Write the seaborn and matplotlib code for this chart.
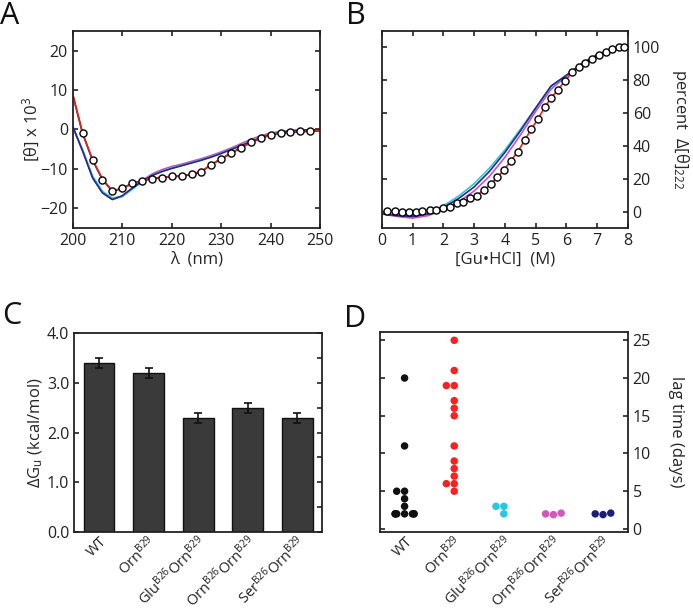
import numpy as np
import pandas as pd
import matplotlib
matplotlib.use("Agg")
import matplotlib.pyplot as plt
import matplotlib.transforms as mtransforms
from matplotlib.ticker import MultipleLocator, FormatStrFormatter
import seaborn as sns
import seaborn.categorical as sc

# ---------------- data ----------------
# Panel A: CD spectra
wl = [200, 202, 204, 206, 208, 210, 212, 214, 216, 218, 220, 222, 224, 226,
      228, 230, 232, 234, 236, 238, 240, 242, 244, 246, 248, 250]
cd_wt = [8.8, -1.0, -7.8, -12.7, -15.7, -14.9, -13.7, -13.0, -12.5, -12.2, -11.9, -11.9, -11.4,
         -10.7, -8.9, -7.5, -6.0, -4.6, -3.3, -2.2, -1.35, -0.9, -0.7, -0.5, -0.5, -0.3]
cd_orn = [8.9, -1.1, -7.7, -12.6, -15.6, -14.9, -13.8, -13.0, -12.4, -12.1, -11.9, -11.8, -11.3,
          -10.6, -8.9, -7.4, -6.0, -4.6, -3.3, -2.2, -1.4, -0.9, -0.6, -0.5, -0.4, -0.3]
cd_glu = [0.5, -5.2, -11.8, -15.7, -17.4, -17.0, -15.2, -13.3, -11.6, -10.6, -9.8, -9.1, -8.4,
          -7.7, -6.9, -6.0, -5.0, -4.0, -3.0, -2.0, -1.2, -0.7, -0.3, -0.2, -0.1, -0.1]
cd_ornorn = [0.6, -5.4, -12.0, -16.0, -17.7, -17.0, -15.0, -13.0, -11.3, -10.2, -9.4, -8.8, -8.1,
             -7.4, -6.6, -5.7, -4.7, -3.6, -2.5, -1.6, -0.9, -0.5, -0.2, -0.1, -0.1, -0.1]
cd_ser = [0.8, -5.5, -12.3, -16.1, -17.8, -16.8, -14.9, -13.1, -11.7, -10.7, -9.9, -9.2, -8.5,
          -7.8, -7.0, -6.1, -5.1, -4.1, -3.1, -2.1, -1.3, -0.8, -0.4, -0.2, -0.1, -0.1]
wl_pts = wl[1:-1]
cd_pts = cd_wt[1:-1]

# Panel B: GuHCl denaturation
gu_pts = [0.18, 0.43, 0.65, 0.88, 1.10, 1.32, 1.55, 1.76, 2.00, 2.22, 2.43, 2.65, 2.87, 3.09,
          3.32, 3.54, 3.75, 3.97, 4.20, 4.42, 4.64, 4.86, 5.08, 5.30, 5.51, 5.72, 5.95, 6.18,
          6.40, 6.62, 6.84, 7.06, 7.28, 7.50, 7.72, 7.88]
den_wt = [0.2, 0.2, -0.4, 0.0, 0.0, 0.4, 0.8, 1.0, 2.4, 2.8, 5.0, 5.8, 8.1, 9.7, 13.3, 16.5,
          20.8, 25.2, 31.1, 36.5, 43.3, 50.2, 56.5, 63.7, 69.3, 74.2, 79.4, 84.8, 87.9, 90.7,
          93.1, 95.3, 97.2, 99.2, 100.0, 100.0]
gu_line = [0.0] + gu_pts
den_wt_line = [-1.0] + den_wt
gu = [0.0, 0.5, 1.0, 1.5, 2.0, 2.5, 3.0, 3.5, 4.0, 4.5, 5.0, 5.5, 6.0, 6.5, 7.0, 7.5, 8.0]
den_ser = [-1.4, -2.5, -3.0, -1.5, 2.5, 8.0, 15.0, 24.5, 36.0, 49.0, 63.0, 76.5, 83.0, 90.0, 95.5, 99.0, 100.0]
den_glu = [-1.2, -2.2, -2.6, -1.0, 3.5, 9.5, 17.0, 26.5, 37.5, 50.0, 63.0, 76.0, 83.0, 90.0, 95.5, 99.0, 100.0]
den_ornorn = [-1.5, -3.0, -4.0, -2.5, 1.0, 6.0, 12.5, 21.5, 33.0, 46.5, 61.0, 74.5, 82.5, 90.0, 95.5, 99.0, 100.0]

# Panel C: stability
cats = ["WT", "OrnB29", "GluB26OrnB29", "OrnB26OrnB29", "SerB26OrnB29"]
cat_labels = ["WT", r"Orn$^{\mathrm{B29}}$", r"Glu$^{\mathrm{B26}}$Orn$^{\mathrm{B29}}$",
              r"Orn$^{\mathrm{B26}}$Orn$^{\mathrm{B29}}$", r"Ser$^{\mathrm{B26}}$Orn$^{\mathrm{B29}}$"]
dG = [3.4, 3.2, 2.3, 2.5, 2.3]
dG_err = [0.1, 0.1, 0.1, 0.1, 0.1]

# Panel D: lag times (days)
lag_wt = [20, 11, 5, 5, 4, 3, 2, 2, 2, 2, 2, 2, 2]
lag_orn = [25, 21, 19, 19, 17, 16, 15, 11, 9, 8, 7, 6, 6, 5]
lag_glu = [3, 3, 2]
lag_ornorn = [2, 2.1, 1.9]
lag_ser = [2, 2.1, 1.9]

# narrower swarm columns (seaborn's own beeswarm layout, smaller width)
_orig_bee_init = sc.Beeswarm.__init__
def _bee_init(self, *a, **k):
    _orig_bee_init(self, *a, **k)
    self.width = 0.38
sc.Beeswarm.__init__ = _bee_init

# ---------------- style ----------------
sns.set_theme(style="ticks")
plt.rcParams["font.family"] = ["Open Sans", "DejaVu Sans"]
plt.rcParams.update({
    "mathtext.fontset": "custom",
    "mathtext.rm": "Open Sans",
    "mathtext.it": "Open Sans:italic",
    "mathtext.bf": "Open Sans:bold",
    "font.size": 11.5,
    "axes.linewidth": 1.3,
    "axes.edgecolor": "#222222",
    "xtick.direction": "in",
    "ytick.direction": "in",
    "xtick.major.size": 3.5,
    "ytick.major.size": 3.5,
    "xtick.minor.size": 3.5,
    "ytick.minor.size": 3.5,
    "xtick.major.width": 1.2,
    "ytick.major.width": 1.2,
    "xtick.minor.width": 1.2,
    "ytick.minor.width": 1.2,
    "xtick.labelsize": 11.5,
    "ytick.labelsize": 11.5,
    "axes.labelsize": 12,
    "xtick.color": "#222222",
    "ytick.color": "#222222",
})

RED = "#e8231e"
NAVY = "#28288c"
CYAN = "#30c8dc"
MAG = "#c850c0"
BLACK = "#111111"

fig = plt.figure(figsize=(6.93, 6.14), dpi=100)
axA = fig.add_axes([0.105, 0.6287, 0.357, 0.3208])
axB = fig.add_axes([0.551, 0.6287, 0.355, 0.3208])
axC = fig.add_axes([0.107, 0.1336, 0.358, 0.324])
axD = fig.add_axes([0.548, 0.1336, 0.358, 0.3257])

# ---------------- Panel A ----------------
lw = 1.2
for yv, c in [(cd_ornorn, MAG), (cd_glu, CYAN), (cd_ser, NAVY), (cd_wt, BLACK), (cd_orn, RED)]:
    sns.lineplot(x=wl, y=yv, ax=axA, color=c, lw=lw, estimator=None, sort=False)
sns.scatterplot(x=wl_pts, y=cd_pts, ax=axA, marker="o", s=26, color="white",
                edgecolor="black", linewidth=1.0, zorder=5)
axA.set_xlim(200, 250)
axA.set_ylim(-25, 25)
axA.set_xticks([200, 210, 220, 230, 240, 250])
axA.set_yticks([-20, -10, 0, 10, 20])
axA.tick_params(top=True, right=True)
axA.set_xlabel("λ  (nm)", labelpad=2)
axA.set_ylabel("[θ] x 10$^3$", labelpad=-1)

# ---------------- Panel B ----------------
for yv, c in [(den_ornorn, MAG), (den_glu, CYAN), (den_ser, NAVY)]:
    sns.lineplot(x=gu, y=yv, ax=axB, color=c, lw=lw, estimator=None, sort=False)
sns.lineplot(x=gu_line, y=den_wt_line, ax=axB, color=RED, lw=lw, estimator=None, sort=False)
sns.scatterplot(x=gu_pts, y=den_wt, ax=axB, marker="o", s=26, color="white",
                edgecolor="black", linewidth=1.0, zorder=5)
axB.set_xlim(0, 8)
axB.set_ylim(-10, 110)
axB.set_xticks(range(0, 9))
axB.set_yticks([0, 20, 40, 60, 80, 100])
axB.yaxis.tick_right()
axB.yaxis.set_label_position("right")
axB.tick_params(top=True, left=True, right=True, labelleft=False, labelright=True)
axB.set_xlabel("[Gu•HCl]  (M)", labelpad=2)
axB.set_ylabel("percent  Δ[θ]$_{222}$", rotation=270, labelpad=22)

# ---------------- Panel C ----------------
dfC = pd.DataFrame({"variant": cats, "dG": dG})
sns.barplot(data=dfC, x="variant", y="dG", order=cats, ax=axC, color="#3a3a3a",
            edgecolor="#111111", linewidth=1.0, width=0.62, errorbar=None, saturation=1)
axC.errorbar(np.arange(len(cats)), dG, yerr=dG_err, fmt="none", ecolor="#111111",
             elinewidth=1.2, capsize=2.6, capthick=1.2, zorder=5)
axC.set_xlim(-0.5, 4.5)
axC.set_ylim(0, 4.0)
axC.yaxis.set_major_locator(MultipleLocator(1.0))
axC.yaxis.set_minor_locator(MultipleLocator(0.5))
axC.yaxis.set_major_formatter(FormatStrFormatter("%.1f"))
axC.tick_params(axis="y", which="major", left=True, right=True)
axC.tick_params(axis="y", which="minor", left=False, right=True)
axC.tick_params(axis="x", bottom=False)
axC.set_xlabel("")
axC.set_ylabel("ΔG$_\\mathrm{u}$ (kcal/mol)", labelpad=1.5)

# ---------------- Panel D ----------------
groups = []
vals = []
for name, arr in zip(cats, [lag_wt, lag_orn, lag_glu, lag_ornorn, lag_ser]):
    groups += [name] * len(arr)
    vals += list(arr)
dfD = pd.DataFrame({"variant": groups, "lag": vals})
palD = dict(zip(cats, [BLACK, "#ff1f1f", "#28c8e0", "#d058b8", "#1e1e78"]))
sns.swarmplot(data=dfD, x="variant", y="lag", order=cats, hue="variant", palette=palD,
              ax=axD, size=5.4, linewidth=0, legend=False, warn_thresh=1.0)
axD.set_xlim(-0.5, 4.5)
axD.set_ylim(-0.4, 26.1)
axD.set_yticks([0, 5, 10, 15, 20, 25])
axD.yaxis.tick_right()
axD.yaxis.set_label_position("right")
axD.tick_params(axis="y", left=True, right=True, labelleft=False, labelright=True)
axD.tick_params(axis="x", bottom=False)
axD.set_xlabel("")
axD.set_ylabel("lag time (days)", rotation=270, labelpad=24)

# category labels
for ax in (axC, axD):
    ax.set_xticks(range(len(cats)))
    ax.set_xticklabels(cat_labels, rotation=45, ha="right", va="center",
                       rotation_mode="anchor", fontsize=10.5)
    off = mtransforms.ScaledTranslation(4 / 72, -2 / 72, fig.dpi_scale_trans)
    for lab in ax.get_xticklabels():
        lab.set_transform(lab.get_transform() + off)
    for sp in ax.spines.values():
        sp.set_visible(True)

for ax in (axA, axB):
    for sp in ax.spines.values():
        sp.set_visible(True)

# panel letters
for txt, x, y in [("A", 0.0, 0.999), ("B", 0.499, 0.999), ("C", 0.003, 0.51), ("D", 0.496, 0.505)]:
    fig.text(x, y, txt, fontsize=22, va="top", ha="left", color="#111111")

fig.savefig("out.png", dpi=100)
